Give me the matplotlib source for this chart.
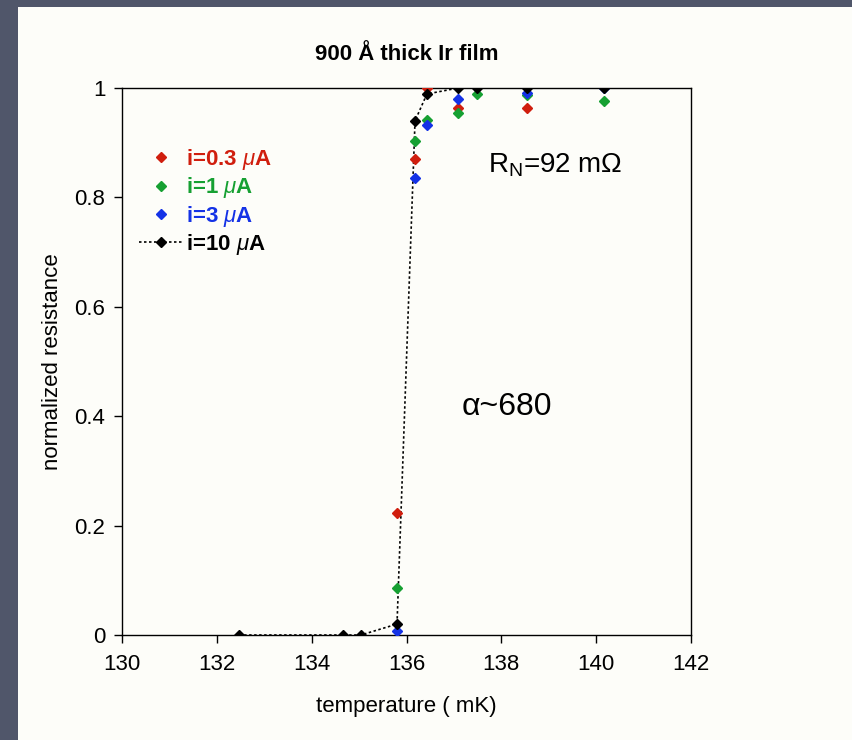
import matplotlib
matplotlib.use("Agg")
import matplotlib.pyplot as plt
import matplotlib.patches as patches

plt.rcParams['font.family'] = ['Liberation Sans', 'DejaVu Sans']
plt.rcParams['mathtext.fontset'] = 'custom'
plt.rcParams['mathtext.rm'] = 'Liberation Sans'
plt.rcParams['mathtext.it'] = 'Liberation Sans:italic'

# i = 0.3 uA
t_03 = [135.80, 136.18, 136.43, 137.09, 138.54]
r_03 = [0.223, 0.871, 1.000, 0.964, 0.963]

# i = 1 uA
t_1 = [135.80, 136.18, 136.43, 137.09, 137.49, 138.54, 140.17]
r_1 = [0.086, 0.904, 0.941, 0.954, 0.989, 0.987, 0.977]

# i = 3 uA
t_3 = [135.80, 136.18, 136.43, 137.09, 138.54, 140.17]
r_3 = [0.007, 0.836, 0.932, 0.980, 0.990, 1.000]

# i = 10 uA
t_10 = [132.47, 134.66, 135.04, 135.80, 136.18, 136.43, 137.09, 137.49, 138.54, 140.17]
r_10 = [0.0, 0.0, 0.0, 0.020, 0.940, 0.989, 1.0, 1.0, 1.0, 1.0]

x_ticks = [130, 132, 134, 136, 138, 140, 142]
y_ticks = [0, 0.2, 0.4, 0.6, 0.8, 1]
y_tick_labels = ['0', '0.2', '0.4', '0.6', '0.8', '1']

RED = '#d01e0e'
GREEN = '#16a032'
BLUE = '#1432e6'
DOTS = (0, (1.5, 1.5))

fig = plt.figure(figsize=(8.52, 7.4), dpi=100)
fig.patch.set_facecolor('#50566a')

# white slide panel (behind the axes)
panel = patches.Rectangle((18 / 852, 0), 1 - 18 / 852, 1 - 7 / 740,
                          transform=fig.transFigure, facecolor='#fdfdf9',
                          edgecolor='none', zorder=-10)
fig.patches.append(panel)

ax = fig.add_axes([122 / 852, 1 - 635 / 740, 569 / 852, 547 / 740])
ax.set_facecolor('#fdfdf9')

# dotted line through the i=10 points, carried on to the right edge
ax.plot(t_10, r_10, color='black', linestyle=DOTS, linewidth=1.2, zorder=2)
ax.plot([t_10[-1], x_ticks[-1]], [r_10[-1], r_10[-1]], color='black',
        linestyle=DOTS, linewidth=1.2, zorder=2)

ms = 4.8
ax.plot(t_03, r_03, 'D', color=RED, markersize=ms, zorder=3)
ax.plot(t_1, r_1, 'D', color=GREEN, markersize=ms, zorder=3)
ax.plot(t_3, r_3, 'D', color=BLUE, markersize=ms, zorder=3)
ax.plot(t_10, r_10, 'D', color='black', markersize=ms, zorder=4)

# legend handles
h1, = ax.plot([], [], 'D', color=RED, markersize=ms, label=r'i=0.3 $\mu$A')
h2, = ax.plot([], [], 'D', color=GREEN, markersize=ms, label=r'i=1 $\mu$A')
h3, = ax.plot([], [], 'D', color=BLUE, markersize=ms, label=r'i=3 $\mu$A')
h4, = ax.plot([], [], 'D', color='black', linestyle=DOTS, linewidth=1.2,
              markersize=ms, label=r'i=10 $\mu$A')
leg = ax.legend(handles=[h1, h2, h3, h4], loc='upper left',
                bbox_to_anchor=(0.03, 0.892), frameon=False,
                handlelength=1.95, handletextpad=0.15,
                labelspacing=0.15, borderpad=0, borderaxespad=0,
                numpoints=1, labelcolor=[RED, GREEN, BLUE, 'black'],
                prop={'weight': 'bold', 'size': 16})

ax.text(137.72, 0.846, r'R$_\mathregular{N}$=92 m$\Omega$', fontsize=20,
        ha='left', va='baseline')
ax.text(137.17, 0.403, 'α~680', fontsize=23, ha='left', va='baseline')

ax.set_xlim(130, 142)
ax.set_ylim(0, 1)
ax.set_xticks(x_ticks)
ax.set_yticks(y_ticks)
ax.set_yticklabels(y_tick_labels)
ax.tick_params(direction='out', length=6, width=1, labelsize=16, pad=6)
ax.tick_params(axis='x', pad=8)
for sp in ax.spines.values():
    sp.set_linewidth(1)

ax.set_title('900 Å thick Ir film', fontsize=16, fontweight='bold', pad=20)
ax.set_xlabel('temperature ( mK)', fontsize=16, labelpad=15)
ax.set_ylabel('normalized resistance', fontsize=16, labelpad=8)

fig.savefig('out.png', dpi=100, facecolor=fig.get_facecolor())
